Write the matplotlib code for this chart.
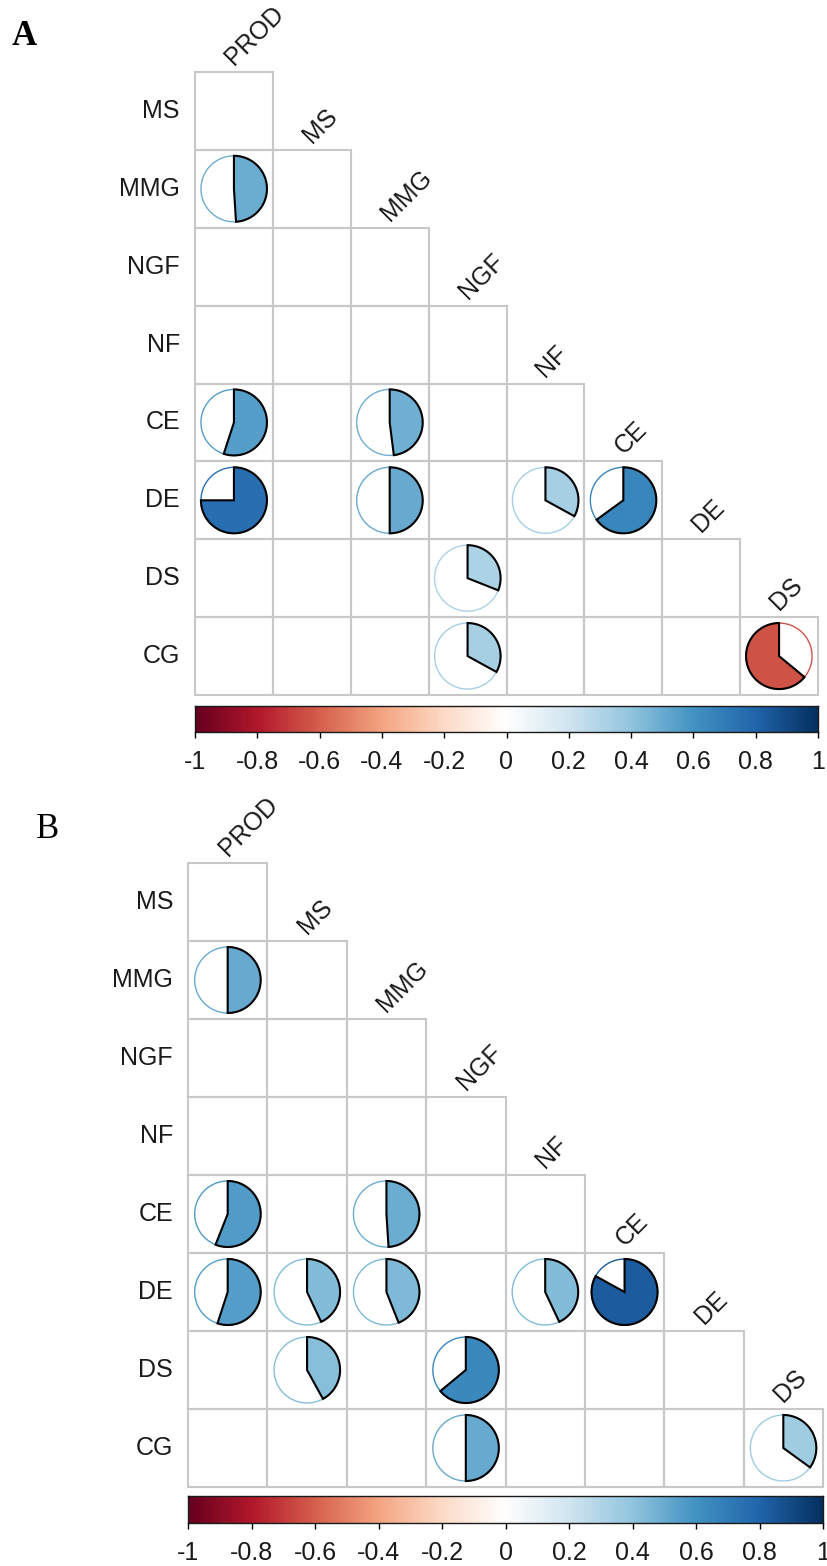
import numpy as np
import matplotlib
matplotlib.use("Agg")
import matplotlib.pyplot as plt
from matplotlib.colors import LinearSegmentedColormap
from matplotlib.patches import Polygon, Rectangle

plt.rcParams['font.family'] = ['Liberation Sans', 'DejaVu Sans']

W, H = 827, 1566

# ---------------- data ----------------
row_labels = ["MS", "MMG", "NGF", "NF", "CE", "DE", "DS", "CG"]
col_labels = ["PROD", "MS", "MMG", "NGF", "NF", "CE", "DE", "DS"]
nan = np.nan
# panel A (lower triangle; NaN = blank / not significant)
corr_a = [
    [nan, nan, nan, nan, nan, nan, nan, nan],
    [0.49, nan, nan, nan, nan, nan, nan, nan],
    [nan, nan, nan, nan, nan, nan, nan, nan],
    [nan, nan, nan, nan, nan, nan, nan, nan],
    [0.55, nan, 0.48, nan, nan, nan, nan, nan],
    [0.75, nan, 0.50, nan, 0.33, 0.65, nan, nan],
    [nan, nan, nan, 0.31, nan, nan, nan, nan],
    [nan, nan, nan, 0.33, nan, nan, nan, -0.64],
]
# panel B
corr_b = [
    [nan, nan, nan, nan, nan, nan, nan, nan],
    [0.50, nan, nan, nan, nan, nan, nan, nan],
    [nan, nan, nan, nan, nan, nan, nan, nan],
    [nan, nan, nan, nan, nan, nan, nan, nan],
    [0.56, nan, 0.49, nan, nan, nan, nan, nan],
    [0.55, 0.43, 0.44, nan, 0.43, 0.83, nan, nan],
    [nan, 0.42, nan, 0.64, nan, nan, nan, nan],
    [nan, nan, nan, 0.50, nan, nan, nan, 0.35],
]
cbar_ticks = [-1, -0.8, -0.6, -0.4, -0.2, 0, 0.2, 0.4, 0.6, 0.8, 1]
cbar_ticklabels = ["-1", "-0.8", "-0.6", "-0.4", "-0.2", "0", "0.2", "0.4", "0.6", "0.8", "1"]

palette = ["#67001F", "#B2182B", "#D6604D", "#F4A582", "#FDDBC7", "#FFFFFF",
           "#D1E5F0", "#92C5DE", "#4393C3", "#2166AC", "#053061"]
cmap = LinearSegmentedColormap.from_list("rdbu", palette, N=200)

fig = plt.figure(figsize=(W / 100, H / 100), dpi=100)


def fig_axes(x0, y0, x1, y1):
    return fig.add_axes([x0 / W, 1 - y1 / H, (x1 - x0) / W, (y1 - y0) / H])


def draw_panel(corr, box, cbar_box, letter, letter_xy, bold):
    x0, y0, x1, y1 = box
    n = len(row_labels)
    ax = fig_axes(*box)
    ax.set_xlim(0, n)
    ax.set_ylim(n, 0)
    ax.axis('off')
    cw = (x1 - x0) / n
    ch = (y1 - y0) / n
    R = 33.0
    rx, ry = R / cw, R / ch
    for i in range(n):
        for j in range(i + 1):
            ax.add_patch(Rectangle((j, i), 1, 1, fill=False, ec='#C8C8C8',
                                   lw=1.5, zorder=1, clip_on=False))
    for i in range(n):
        for j in range(i + 1):
            v = corr[i][j]
            if np.isnan(v):
                continue
            col = cmap((v + 1) / 2)
            cx, cy = j + 0.5, i + 0.5
            tt = np.linspace(0, 2 * np.pi, 200)
            ax.plot(cx + rx * np.sin(tt), cy - ry * np.cos(tt), color=col,
                    lw=1.0, zorder=2)
            s = 1 if v >= 0 else -1
            t = np.linspace(0, 2 * np.pi * abs(v), 150)
            xs = np.concatenate([[cx], cx + s * rx * np.sin(t)])
            ys = np.concatenate([[cy], cy - ry * np.cos(t)])
            ax.add_patch(Polygon(np.column_stack([xs, ys]), closed=True,
                                 fc=col, ec='black', lw=1.5, zorder=3,
                                 joinstyle='miter'))
    # labels
    for i, lab in enumerate(row_labels):
        ax.text(-15 / cw, i + 0.5, lab, ha='right', va='center', fontsize=18,
                color='#1a1a1a')
    for j, lab in enumerate(col_labels):
        ax.text(j + 0.5, j - 6 / ch, lab, rotation=45, rotation_mode='anchor',
                ha='left', va='baseline', fontsize=18, color='#1a1a1a')
    # colorbar
    cax = fig_axes(*cbar_box)
    cax.imshow(np.linspace(-1, 1, 400)[None, :], cmap=cmap, aspect='auto',
               extent=[-1, 1, 0, 1])
    cax.set_xlim(-1, 1)
    cax.set_yticks([])
    cax.set_xticks(cbar_ticks)
    cax.set_xticklabels(cbar_ticklabels, fontsize=18, color='#1a1a1a')
    cax.tick_params(axis='x', length=4, width=1, pad=9, direction='out')
    for sp in cax.spines.values():
        sp.set_linewidth(1)
        sp.set_color('#1a1a1a')
    fig.text(letter_xy[0] / W, 1 - letter_xy[1] / H, letter,
             family='Liberation Serif', fontsize=25,
             fontweight='bold' if bold else 'normal', ha='left', va='baseline')


draw_panel(corr_a, (195, 72, 818, 695), (195, 706, 818, 732), "A", (12, 45), True)
draw_panel(corr_b, (188, 863, 823, 1487), (188, 1496, 823, 1523), "B", (36, 838), False)

fig.savefig("out.png", dpi=100)
